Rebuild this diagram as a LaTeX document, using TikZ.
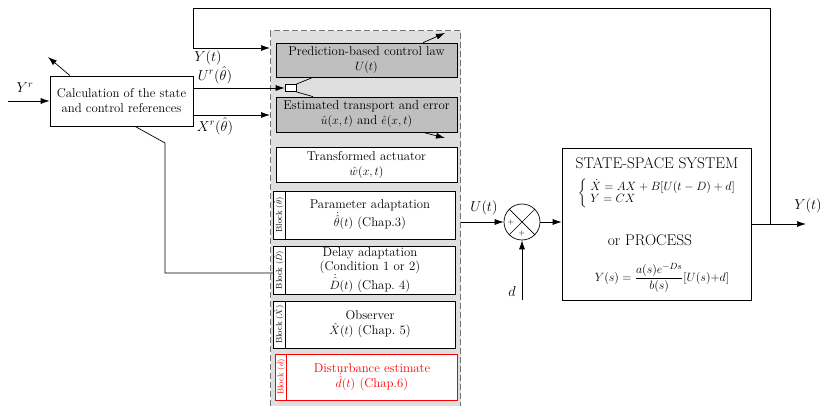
\documentclass[tikz,border=0pt]{standalone}
\usepackage{amsmath}
\usetikzlibrary{arrows.meta}
\begin{document}
\begin{tikzpicture}[x=1pt,y=-1pt,line width=0.7pt,>={Latex[length=9pt,width=6pt]},
    blk/.style={draw,rectangle,align=center,inner sep=0pt,font=\fontsize{12.8}{15}\selectfont},
    tag/.style={draw,rectangle,rotate=90,inner sep=0pt,minimum height=12pt,font=\fontsize{8.5}{9}\selectfont},
    lbl/.style={font=\fontsize{14}{16}\selectfont}]
  \useasboundingbox (0,0) rectangle (823,406);
  \node[draw=black!55,dashed,dash pattern=on 6pt off 3pt,line width=1.2pt,fill=gray!25,
    minimum width=190pt,minimum height=385pt,anchor=north west] (grp) at (270,30) {};
  \node[blk,minimum width=143pt,minimum height=50pt] (calc) at (121.5,101)
    {Calculation of the state\\and control references};
  \node[blk,fill=gray!50,minimum width=181pt,minimum height=34pt] (pred) at (366.5,60)
    {Prediction-based control law\\$U(t)$};
  \node[blk,fill=gray!50,minimum width=181pt,minimum height=35pt] (est) at (366.5,114.5)
    {Estimated transport and error\\$\hat u(x,t)$ and $\hat e(x,t)$};
  \node[blk,fill=white,minimum width=181pt,minimum height=35pt] (trans) at (366.5,164.5)
    {Transformed actuator\\$\hat w(x,t)$};
  \node[blk,fill=white,minimum width=182pt,minimum height=48pt,text width=170pt] (param) at (364,215)
    {\hspace*{12pt}Parameter adaptation\\\hspace*{12pt}$\dot{\hat\theta}(t)$ (Chap.3)};
  \node[tag,minimum width=48pt] (paramtag) at (279,215) {Block $(\hat\theta)$};
  \node[blk,fill=white,minimum width=182pt,minimum height=48pt,text width=170pt,
    font=\fontsize{12.8}{14}\selectfont] (delay) at (364,270)
    {\hspace*{12pt}Delay adaptation\\\hspace*{12pt}(Condition 1 or 2)\\\hspace*{12pt}$\dot{\hat D}(t)$ (Chap.~4)};
  \node[tag,minimum width=48pt] (delaytag) at (279,270) {Block $(\hat D)$};
  \node[blk,fill=white,minimum width=182pt,minimum height=47pt,text width=170pt] (obs) at (364,324.5)
    {\hspace*{12pt}Observer\\\hspace*{12pt}$\hat X(t)$ (Chap.~5)};
  \node[tag,minimum width=47pt] (obstag) at (279,324.5) {Block $(\hat X)$};
  \node[blk,draw=red,text=red,fill=white,minimum width=182pt,minimum height=46pt,text width=170pt] (dist) at (366,377)
    {\hspace*{12pt}Disturbance estimate\\\hspace*{12pt}$\dot{\hat d}(t)$ (Chap.6)};
  \node[tag,draw=red,text=red,minimum width=46pt,minimum height=11pt] (disttag) at (280.5,377) {Block $(\hat d)$};
  \node[draw,fill=white,minimum width=11pt,minimum height=7pt,inner sep=0pt] (tap) at (290.5,88) {};
  \node[draw,circle,minimum size=36pt,inner sep=0pt] (sum) at (522,222) {};
  \node[draw,minimum width=189pt,minimum height=152pt] (sys) at (656.5,224) {};
  \node[font=\fontsize{15.5}{17}\selectfont] (systitle) at (657,163) {STATE-SPACE SYSTEM};
  \node[font=\fontsize{12}{12.5}\selectfont] (syscases) at (657,193)
    {$\left\{\;\begin{array}{@{}l@{}}\dot X = AX + B[U(t-D)+d]\\ Y = CX\end{array}\right.$};
  \node[font=\fontsize{15.5}{17}\selectfont] (sysor) at (650,240) {or PROCESS};
  \node[font=\fontsize{13}{15}\selectfont] (sysproc) at (662,278)
    {$Y(s) = \dfrac{a(s)e^{-Ds}}{b(s)}[U(s){+}d]$};
  \node[font=\footnotesize] (plus1) at (511,223) {$+$};
  \node[font=\footnotesize] (plus2) at (522,234) {$+$};
  \draw (sum.north west) -- (sum.south east);
  \draw (sum.north east) -- (sum.south west);
  \coordinate (yin) at (8,101);
  \coordinate (yout) at (806,224);
  \coordinate (br) at (770,224);
  \coordinate (din) at (522,300);
  \coordinate (up) at (48,57);
  \coordinate (predout) at (445,33);
  \coordinate (estout) at (445,138);
  \draw[->] (yin) -- (calc.west);
  \draw[->] ([xshift=-51.5pt]calc.north) -- (up);
  \draw[->] ([yshift=13pt]calc.east) -- (tap.west);
  \draw[->] ([yshift=-14pt]calc.east) coordinate (xr) -- (xr -| grp.west);
  \draw ([xshift=13.5pt]calc.south) -- (165,143) -- (165,273) -- (delay.west |- 0,273);
  \draw (tap.north east) -- ([xshift=-53.5pt]pred.south);
  \draw (tap.south east) -- ([xshift=-53.5pt]est.north);
  \draw[->] ([xshift=56.5pt]pred.north) -- (predout);
  \draw[->] ([xshift=56.5pt]est.south) -- (estout);
  \draw[->] (grp.east |- sum) -- (sum.west);
  \draw[->] (din) -- (sum.south);
  \draw[->] (sum.east) -- (sum.east -| sys.west);
  \draw[->] (sys.east |- yout) -- (yout);
  \draw[->] (br) -- (770,8) -- (193,8) -- (193,48) -- (grp.west |- 0,48);
  \node[lbl] (yrlab) at (25,88) {$Y^r$};
  \node[lbl] (urlab) at (215,75) {$U^r(\hat\theta)$};
  \node[lbl] (xrlab) at (215,126) {$X^r(\hat\theta)$};
  \node[lbl] (ytlab) at (208,58) {$Y(t)$};
  \node[lbl] (utlab) at (484,208) {$U(t)$};
  \node[lbl] (dlab) at (512,292) {$d$};
  \node[lbl] (youtlab) at (808,206) {$Y(t)$};
\end{tikzpicture}
\end{document}
